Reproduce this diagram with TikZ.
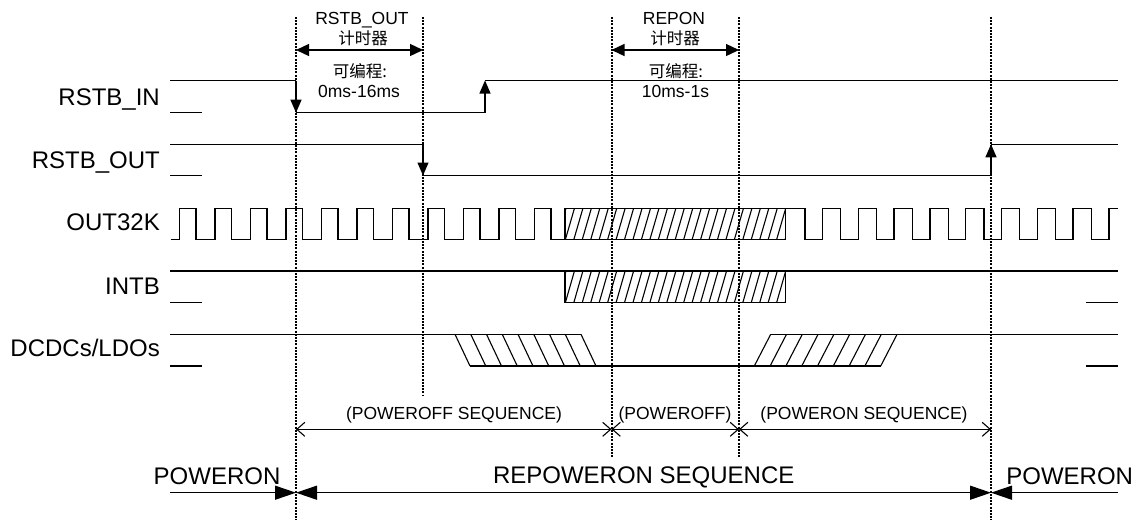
\documentclass[tikz,border=0pt]{standalone}
\usepackage{fontspec}
\setmainfont{Liberation Sans}
\newfontfamily\cjk{Noto Sans CJK SC}
\usetikzlibrary{arrows.meta}
\begin{document}
\begin{tikzpicture}[x=1pt,y=-1pt,
  wave/.style={line width=1.3pt, line join=miter},
  hatch/.style={line width=1.1pt},
  marker/.style={line width=2pt, dash pattern=on 2pt off 1.2pt},
  siglabel/.style={font=\fontsize{24}{28}\selectfont, inner sep=0pt, anchor=base east},
  small/.style={font=\fontsize{17.5}{20}\selectfont, inner sep=0pt, anchor=base},
  cjklabel/.style={font={\cjk\fontsize{16.5}{20}\selectfont}, inner sep=0pt},
  big/.style={font=\fontsize{24}{28}\selectfont, inner sep=0pt, anchor=base},
  tip/.style={-{Triangle[length=13pt,width=11pt]}},
  dtip/.style={{Triangle[length=13pt,width=12pt]}-{Triangle[length=13pt,width=12pt]}},
  obar/.style={line width=1.1pt,{Straight Barb[length=8pt,width=14pt]}-{Straight Barb[length=8pt,width=14pt]}},
  bigtip/.style={-{Triangle[length=21pt,width=14pt]}},
  bigdtip/.style={{Triangle[length=21pt,width=14pt]}-{Triangle[length=21pt,width=14pt]}}
]
\useasboundingbox (0,0) rectangle (1142,520);

% time markers
\coordinate (a) at (296,0);
\coordinate (b) at (423,0);
\coordinate (c) at (611.5,0);
\coordinate (d) at (739,0);
\coordinate (e) at (991,0);

% signal labels
\node[siglabel] (lin) at (160,105) {RSTB\_IN};
\node[siglabel] (lout) at (160,168.3) {RSTB\_OUT};
\node[siglabel] (l32) at (160,230.7) {OUT32K};
\node[siglabel] (lint) at (160,294) {INTB};
\node[siglabel] (ldc) at (160,356.7) {DCDCs/LDOs};

% top timer labels
\node[small] (t1a) at (362,24.3) {RSTB\_OUT};
\node[cjklabel] (t1b) at (363,38.3) {计时器};
\node[cjklabel] (t1c) at (360,70.7) {可编程:};
\node[small] (t1d) at (359,97.7) {0ms-16ms};
\node[small] (t2a) at (674,24.3) {REPON};
\node[cjklabel] (t2b) at (675,38.3) {计时器};
\node[cjklabel] (t2c) at (676,70.7) {可编程:};
\node[small] (t2d) at (675.5,97.7) {10ms-1s};

\draw[wave,dtip] (a |- 0,50) -- (b |- 0,50);
\draw[wave,dtip] (c |- 0,50) -- (d |- 0,50);

% RSTB_IN
\draw[wave] (170,80.5) -- (296,80.5);
\draw[wave,tip] (296,80.5) -- (296,112.7);
\draw[wave] (296,112.7) -- (485,112.7);
\draw[wave,tip] (485,112.7) -- (485,80.5);
\draw[wave] (485,80.5) -- (1118,80.5);
\draw[wave] (170,112.7) -- (202,112.7);

% RSTB_OUT
\draw[wave] (170,144.3) -- (423,144.3);
\draw[wave,tip] (423,144.3) -- (423,175.5);
\draw[wave] (423,175.5) -- (991,175.5);
\draw[wave,tip] (991,175.5) -- (991,144.3);
\draw[wave] (991,144.3) -- (1118,144.3);
\draw[wave] (170,175.5) -- (202,175.5);

% OUT32K
\draw[wave] (170.5,239.3) \foreach \k in {0,...,10} { -- ({179.5+35.5*\k},239.3) -- ({179.5+35.5*\k},208.3) -- ({196+35.5*\k},208.3) -- ({196+35.5*\k},239.3) } -- (565,239.3);
\draw[wave] (785.5,208.3) \foreach \k in {0,...,8} { -- ({805+35.8*\k},208.3) -- ({805+35.8*\k},239.3) -- ({822.5+35.8*\k},239.3) -- ({822.5+35.8*\k},208.3) } -- (1118,208.3);
\begin{scope}
  \clip (565,208.3) rectangle (785.5,239.3);
  \foreach \i in {0,...,28} \draw[hatch] ({557+8.45*\i},239.3) -- ++(9,-31);
\end{scope}
\draw[wave] (565,208.3) rectangle (785.5,239.3);

% INTB
\draw[wave] (170,271) -- (1118,271);
\begin{scope}
  \clip (565,271) rectangle (785.5,302.3);
  \foreach \i in {0,...,28} \draw[hatch] ({557+8.45*\i},302.3) -- ++(9,-31.3);
\end{scope}
\draw[wave] (565,271) rectangle (785.5,302.3);
\draw[wave] (170,302.5) -- (202,302.5);
\draw[wave] (1086,302.5) -- (1118,302.5);

% DCDCs/LDOs
\draw[wave] (170,334.3) -- (581,334.3);
\foreach \k in {0,...,8} \draw[hatch] ({455+15.75*\k},334.3) -- ++(15,31.7);
\draw[wave] (470,366) -- (881,366);
\foreach \k in {0,...,8} \draw[hatch] ({754.3+15.8*\k},366) -- ++(16.4,-31.7);
\draw[wave] (770.7,334.3) -- (1118,334.3);
\draw[wave] (170,366) -- (202,366);
\draw[wave] (1086,366) -- (1118,366);

% dotted time markers
\draw[marker] (a |- 0,17) -- (a |- 0,520);
\draw[marker] (b |- 0,17) -- (b |- 0,396);
\draw[marker] (c |- 0,17) -- (c |- 0,458);
\draw[marker] (d |- 0,17) -- (d |- 0,458);
\draw[marker] (e |- 0,17) -- (e |- 0,520);

% sequence spans
\node[small] (ps1) at (454,419) {(POWEROFF SEQUENCE)};
\node[small] (ps2) at (675,419) {(POWEROFF)};
\node[small] (ps3) at (864,419) {(POWERON SEQUENCE)};
\draw[obar] (a |- 0,429.3) -- (c |- 0,429.3);
\draw[obar] (c |- 0,429.3) -- (d |- 0,429.3);
\draw[obar] (d |- 0,429.3) -- (e |- 0,429.3);

\node[big] (pw1) at (217,484) {POWERON};
\node[big] (rps) at (643.7,483.3) {REPOWERON SEQUENCE};
\node[big] (pw2) at (1069.7,484) {POWERON};
\coordinate (bl) at (170,492.7);
\coordinate (br) at (1118,492.7);
\draw[wave,bigtip] (bl) -- (a |- bl);
\draw[wave,bigdtip] (a |- bl) -- (e |- bl);
\draw[wave,bigtip] (br) -- (e |- bl);
\end{tikzpicture}
\end{document}
